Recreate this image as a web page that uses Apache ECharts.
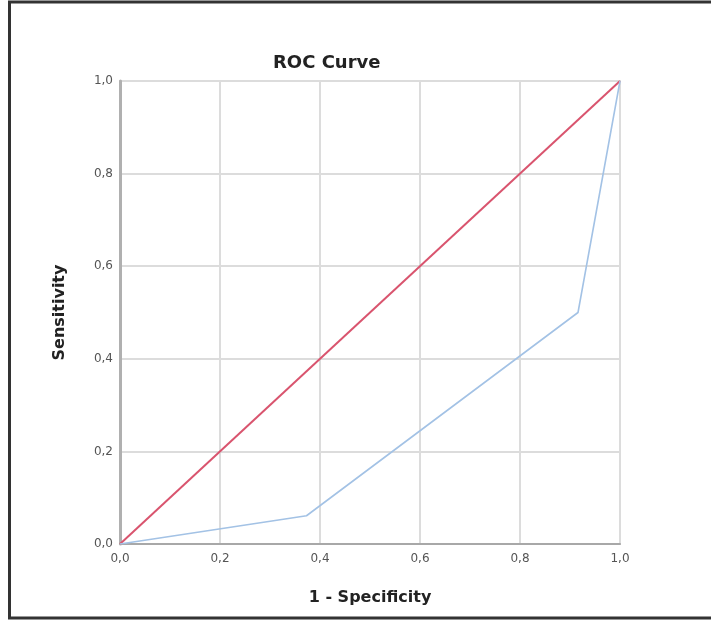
<!DOCTYPE html>
<html>
<head>
<meta charset="utf-8">
<script src="https://cdn.jsdelivr.net/npm/echarts@6/dist/echarts.min.js"></script>
<style>
html,body{margin:0;padding:0;background:#fff;}
#chart{width:711px;height:621px;}
</style>
</head>
<body>
<div id="chart"></div>
<script>
const titleText = "ROC Curve";
const xAxisName = "1 - Specificity";
const yAxisName = "Sensitivity";
const tickValues = [0, 0.2, 0.4, 0.6, 0.8, 1.0];
const tickLabels = ["0,0", "0,2", "0,4", "0,6", "0,8", "1,0"];
const rocFpr = [0, 0.373, 0.916, 1.0];
const rocTpr = [0, 0.061, 0.5, 1.0];
const refFpr = [0, 1.0];
const refTpr = [0, 1.0];

function lab(v) {
  const i = tickValues.findIndex(t => Math.abs(t - v) < 1e-6);
  return i >= 0 ? tickLabels[i] : '';
}

const chart = echarts.init(document.getElementById('chart'), null, {renderer: 'canvas'});
const font = 'DejaVu Sans';
chart.setOption({
  animation: false,
  backgroundColor: '#ffffff',
  graphic: [{
    type: 'rect',
    shape: {x: 9.5, y: 2, width: 740, height: 616},
    style: {fill: 'none', stroke: '#333333', lineWidth: 3},
    silent: true
  }, {
    type: 'text',
    left: 273, top: 54,
    style: {text: titleText, font: 'bold 18px "DejaVu Sans"', fill: '#222222'}
  }],
  grid: {left: 120, right: 91, top: 81, bottom: 77, show: true, borderColor: '#dcdcdc', borderWidth: 2},
  xAxis: {
    type: 'value', min: 0, max: 1, interval: 0.2,
    name: xAxisName, nameLocation: 'middle', nameGap: 46,
    nameTextStyle: {fontFamily: font, fontWeight: 'bold', fontSize: 16, color: '#222222'},
    axisLine: {show: true, onZero: false, lineStyle: {color: '#a8a8a8', width: 2}},
    axisTick: {show: false},
    axisLabel: {formatter: lab, fontFamily: font, fontSize: 12, color: '#555555', margin: 9},
    splitLine: {show: true, lineStyle: {color: '#dcdcdc', width: 2}}
  },
  yAxis: {
    type: 'value', min: 0, max: 1, interval: 0.2,
    name: yAxisName, nameLocation: 'middle', nameGap: 52, nameRotate: 90,
    nameTextStyle: {fontFamily: font, fontWeight: 'bold', fontSize: 16, color: '#222222'},
    axisLine: {show: true, onZero: false, lineStyle: {color: '#b0b0b0', width: 3}},
    axisTick: {show: false},
    axisLabel: {formatter: lab, fontFamily: font, fontSize: 12, color: '#555555', margin: 7},
    splitLine: {show: true, lineStyle: {color: '#dcdcdc', width: 2}}
  },
  series: [{
    type: 'line',
    data: refFpr.map((x, i) => [x, refTpr[i]]),
    showSymbol: false,
    lineStyle: {color: '#d9546e', width: 2},
    z: 3
  }, {
    type: 'line',
    data: rocFpr.map((x, i) => [x, rocTpr[i]]),
    showSymbol: false,
    lineStyle: {color: '#a3c2e5', width: 1.6},
    z: 4
  }]
});
</script>
</body>
</html>
